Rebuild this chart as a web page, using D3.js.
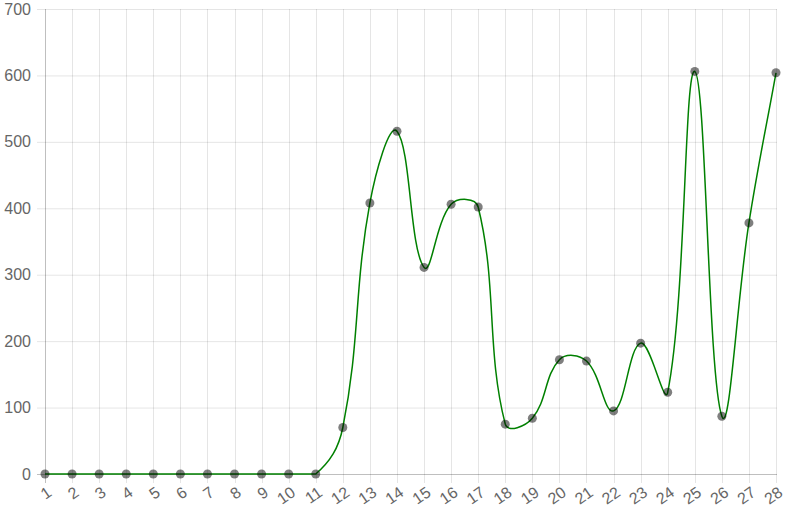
<!DOCTYPE html>
<html><head><meta charset="utf-8">
<script src="https://cdn.jsdelivr.net/npm/d3@7"></script>
<style>body{margin:0;background:#fff}svg{display:block}text{font-family:"Liberation Sans",Arial,Helvetica,sans-serif;fill:#666}</style>
</head><body><svg id="c" width="787" height="525"></svg>
<script>
const categories = ["1","2","3","4","5","6","7","8","9","10","11","12","13","14","15","16","17","18","19","20","21","22","23","24","25","26","27","28"];
const values = [0,0,0,0,0,0,0,0,0,0,0,70,408,516,311,406,402,75,84,172,170,95,197,123,606,87,378,604];
const yTicks = [0,100,200,300,400,500,600,700];

const svg = d3.select("#c");
const L=45,R=776,T=9,B=474;
const x = d3.scalePoint().domain(categories).range([L,R]);
const y = d3.scaleLinear().domain([0,700]).range([B,T]);

// y grid
yTicks.forEach(t=>{
  svg.append("line").attr("x1",L-8).attr("x2",R+1).attr("y1",y(t)+0.5).attr("y2",y(t)+0.5)
    .attr("stroke", t===0?"rgba(0,0,0,0.25)":"rgba(0,0,0,0.1)");
  svg.append("text").attr("x",L-14).attr("y",y(t)).attr("dy","0.35em").attr("text-anchor","end")
    .style("font-size","16px").text(t);
});
// x grid
categories.forEach((c,i)=>{
  svg.append("line").attr("x1",Math.round(x(c))+0.5).attr("x2",Math.round(x(c))+0.5).attr("y1",T).attr("y2",B+9)
    .attr("stroke", i===0?"rgba(0,0,0,0.25)":"rgba(0,0,0,0.1)");
  svg.append("text").attr("transform",`translate(${x(c)+1},${B+11}) rotate(-35)`)
    .attr("text-anchor","end").attr("dy","0.75em").style("font-size","16px").text(c);
});

// Chart.js style spline (tension 0.4) with control points capped to chart area
const pts = values.map((v,i)=>({x:x(categories[i]),y:y(v)}));
const t=0.4;
const capX=v=>Math.max(L,Math.min(R,v)), capY=v=>Math.max(T,Math.min(B,v));
pts.forEach((p,i)=>{
  const prev = pts[i-1]||p, next = pts[i+1]||p;
  const d01=Math.hypot(p.x-prev.x,p.y-prev.y), d12=Math.hypot(next.x-p.x,next.y-p.y);
  let s01=d01/(d01+d12), s12=d12/(d01+d12);
  if(isNaN(s01))s01=0; if(isNaN(s12))s12=0;
  const fa=t*s01, fb=t*s12;
  p.cpPrev={x:capX(p.x-fa*(next.x-prev.x)), y:capY(p.y-fa*(next.y-prev.y))};
  p.cpNext={x:capX(p.x+fb*(next.x-prev.x)), y:capY(p.y+fb*(next.y-prev.y))};
});
const path = d3.path();
path.moveTo(pts[0].x,pts[0].y);
for(let i=1;i<pts.length;i++){
  const a=pts[i-1], b=pts[i];
  path.bezierCurveTo(a.cpNext.x,a.cpNext.y,b.cpPrev.x,b.cpPrev.y,b.x,b.y);
}
svg.append("path").attr("d",path.toString()).attr("fill","none").attr("stroke","green").attr("stroke-width",1.5);

svg.selectAll("circle.pt").data(values).join("circle").attr("class","pt")
  .attr("cx",(d,i)=>x(categories[i])).attr("cy",d=>y(d)).attr("r",4.5)
  .attr("fill","rgba(0,0,0,0.5)");
</script></body></html>
